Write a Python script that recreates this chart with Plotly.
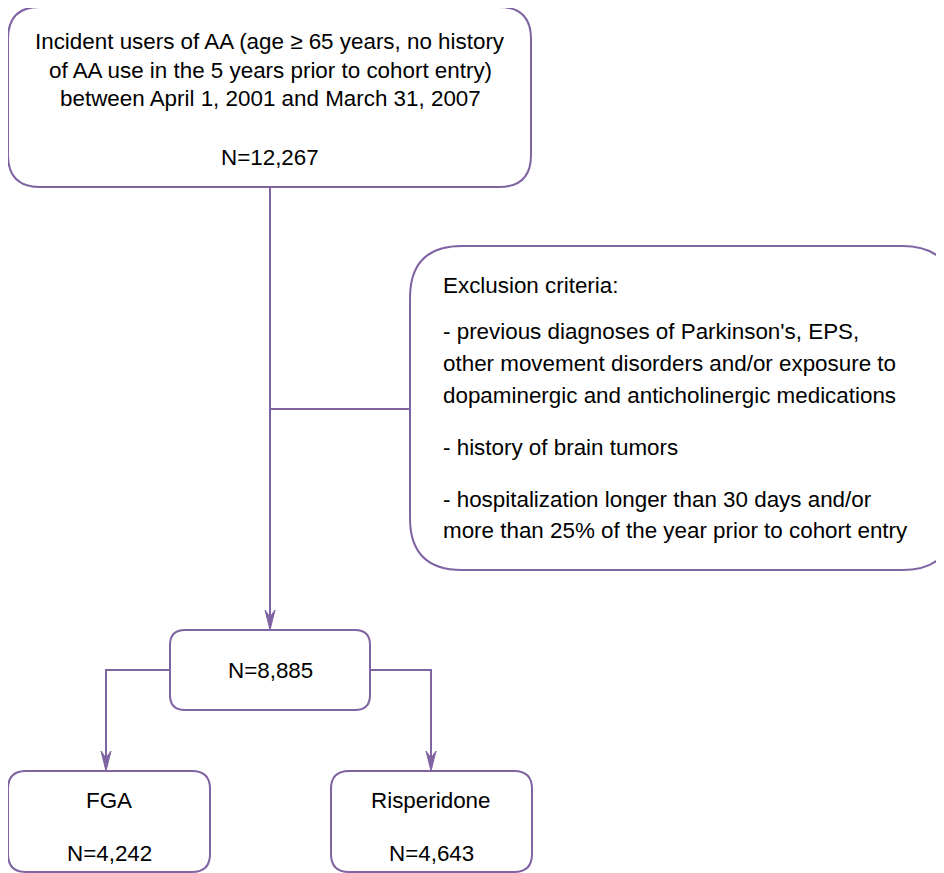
import plotly.graph_objects as go

# ---- data ----
cohort_lines = [
    "Incident users of AA (age \u2265 65 years, no history",
    "of AA use in the 5 years prior to cohort entry)",
    "between April 1, 2001 and March 31, 2007",
]
cohort_n = 12267
exclusion_title = "Exclusion criteria:"
exclusion_lines = [
    "- previous diagnoses of Parkinson's, EPS,",
    "other movement disorders and/or exposure to",
    "dopaminergic and anticholinergic medications",
    "- history of brain tumors",
    "- hospitalization longer than 30 days and/or",
    "more than 25% of the year prior to cohort entry",
]
included_n = 8885
arm_names = ["FGA", "Risperidone"]
arm_n = [4242, 4643]

# ---- layout ----
W, H = 944, 873
OFF = 8  # page body margin
COL = "#8064A2"
FONT = "Liberation Sans, Arial, sans-serif"
FS = 22.4

def rrect(x0, y0, x1, y1, r):
    return (f"M {x0+r},{y0} L {x1-r},{y0} Q {x1},{y0} {x1},{y0+r} "
            f"L {x1},{y1-r} Q {x1},{y1} {x1-r},{y1} L {x0+r},{y1} "
            f"Q {x0},{y1} {x0},{y1-r} L {x0},{y0+r} Q {x0},{y0} {x0+r},{y0} Z")

shapes = []
def box(x0, y0, x1, y1, r):
    shapes.append(dict(type="path", path=rrect(x0, y0, x1, y1, r), xref="x", yref="y",
                       line=dict(color=COL, width=2), fillcolor="white", layer="above"))

def seg(pts):
    p = "M " + " L ".join(f"{x},{y}" for x, y in pts)
    shapes.append(dict(type="path", path=p, xref="x", yref="y",
                       line=dict(color=COL, width=2), layer="below"))

def arrow(x, ytip):
    p = f"M {x},{ytip} L {x-5},{ytip-20} L {x},{ytip-13} L {x+5},{ytip-20} Z"
    shapes.append(dict(type="path", path=p, xref="x", yref="y",
                       line=dict(color=COL, width=1), fillcolor=COL, layer="above"))

# connectors
seg([(270, 187), (270, 628)])
seg([(270, 409), (411, 409)])
seg([(170, 670), (106, 670), (106, 768)])
seg([(370, 670), (431, 670), (431, 768)])
arrow(270, 630)
arrow(106, 771)
arrow(431, 771)

# boxes
box(8, 7, 531, 187, 32)
box(410, 246, 954, 570, 52)
box(170, 630, 370, 710, 15)
box(8, 771, 210, 872, 18)
box(331, 771, 532, 872, 18)

ann = []
def txt(x, y, s, anchor="center"):
    ann.append(dict(x=x, y=y, xref="x", yref="y", text=s, showarrow=False,
                    xanchor=anchor, yanchor="middle",
                    font=dict(family=FONT, size=FS, color="black")))

for s, y in zip(cohort_lines, [41, 70, 98]):
    txt(270, y, s)
txt(270, 157, f"N={cohort_n:,}")

txt(441, 285, exclusion_title, "left")
for s, y in zip(exclusion_lines, [331, 363, 395, 447, 499, 530]):
    txt(441, y, s, "left")

txt(270, 670, f"N={included_n:,}")
for name, n, cx in zip(arm_names, arm_n, [109, 431]):
    txt(cx, 800, name)
    txt(cx, 853, f"N={n:,}")

fig = go.Figure()
fig.update_layout(
    width=W - OFF, height=H - OFF, margin=dict(l=0, r=0, t=0, b=0),
    paper_bgcolor="white", plot_bgcolor="white",
    xaxis=dict(range=[OFF, W], visible=False, fixedrange=True),
    yaxis=dict(range=[H, OFF], visible=False, fixedrange=True),
    shapes=shapes, annotations=ann, showlegend=False,
)
fig.write_html("out.html")
